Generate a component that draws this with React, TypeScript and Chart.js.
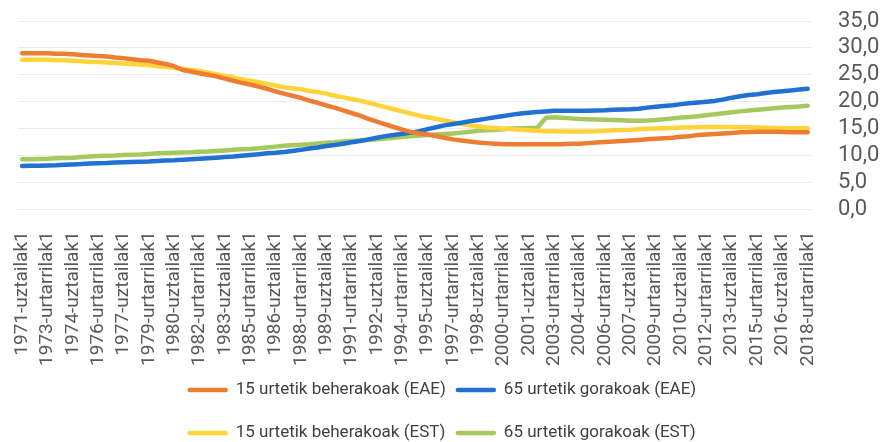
import React, { useEffect, useRef } from "react";
import { Chart, registerables } from "chart.js";

Chart.register(...registerables);

const categories: string[] = [
  "1971-uztailak1", "1972-urtarrilak1", "1972-uztailak1", "1973-urtarrilak1", "1973-uztailak1",
  "1974-urtarrilak1", "1974-uztailak1", "1975-urtarrilak1", "1975-uztailak1", "1976-urtarrilak1",
  "1976-uztailak1", "1977-urtarrilak1", "1977-uztailak1", "1978-urtarrilak1", "1978-uztailak1",
  "1979-urtarrilak1", "1979-uztailak1", "1980-urtarrilak1", "1980-uztailak1", "1981-urtarrilak1",
  "1981-uztailak1", "1982-urtarrilak1", "1982-uztailak1", "1983-urtarrilak1", "1983-uztailak1",
  "1984-urtarrilak1", "1984-uztailak1", "1985-urtarrilak1", "1985-uztailak1", "1986-urtarrilak1",
  "1986-uztailak1", "1987-urtarrilak1", "1987-uztailak1", "1988-urtarrilak1", "1988-uztailak1",
  "1989-urtarrilak1", "1989-uztailak1", "1990-urtarrilak1", "1990-uztailak1", "1991-urtarrilak1",
  "1991-uztailak1", "1992-urtarrilak1", "1992-uztailak1", "1993-urtarrilak1", "1993-uztailak1",
  "1994-urtarrilak1", "1994-uztailak1", "1995-urtarrilak1", "1995-uztailak1", "1996-urtarrilak1",
  "1996-uztailak1", "1997-urtarrilak1", "1997-uztailak1", "1998-urtarrilak1", "1998-uztailak1",
  "1999-urtarrilak1", "1999-uztailak1", "2000-urtarrilak1", "2000-uztailak1", "2001-urtarrilak1",
  "2001-uztailak1", "2002-urtarrilak1", "2002-uztailak1", "2003-urtarrilak1", "2003-uztailak1",
  "2004-urtarrilak1", "2004-uztailak1", "2005-urtarrilak1", "2005-uztailak1", "2006-urtarrilak1",
  "2006-uztailak1", "2007-urtarrilak1", "2007-uztailak1", "2008-urtarrilak1", "2008-uztailak1",
  "2009-urtarrilak1", "2009-uztailak1", "2010-urtarrilak1", "2010-uztailak1", "2011-urtarrilak1",
  "2011-uztailak1", "2012-urtarrilak1", "2012-uztailak1", "2013-urtarrilak1", "2013-uztailak1",
  "2014-urtarrilak1", "2014-uztailak1", "2015-urtarrilak1", "2015-uztailak1", "2016-urtarrilak1",
  "2016-uztailak1", "2017-urtarrilak1", "2017-uztailak1", "2018-urtarrilak1",
];

// 15 urtetik beherakoak (EAE)
const under15EAE: number[] = [
  29.0, 29.0, 29.0, 29.0, 28.9, 28.9, 28.8, 28.7, 28.6, 28.5,
  28.4, 28.2, 28.1, 27.9, 27.7, 27.6, 27.3, 27.0, 26.6, 25.9,
  25.6, 25.3, 25.0, 24.7, 24.3, 23.9, 23.5, 23.2, 22.8, 22.4,
  21.9, 21.5, 21.1, 20.7, 20.2, 19.8, 19.3, 18.9, 18.4, 17.9,
  17.4, 16.8, 16.3, 15.8, 15.3, 14.8, 14.4, 14.1, 13.9, 13.6,
  13.3, 13.0, 12.8, 12.6, 12.4, 12.3, 12.2, 12.1, 12.1, 12.1,
  12.1, 12.1, 12.1, 12.1, 12.1, 12.2, 12.2, 12.3, 12.4, 12.5,
  12.6, 12.7, 12.8, 12.9, 13.0, 13.1, 13.2, 13.3, 13.5, 13.6,
  13.8, 13.9, 14.0, 14.1, 14.2, 14.3, 14.35, 14.4, 14.4, 14.4,
  14.35, 14.3, 14.3, 14.3,
];

// 65 urtetik gorakoak (EAE)
const over65EAE: number[] = [
  8.07, 8.1, 8.1, 8.15, 8.2, 8.3, 8.35, 8.4, 8.5, 8.55,
  8.6, 8.7, 8.75, 8.8, 8.85, 8.9, 9.0, 9.05, 9.1, 9.2,
  9.3, 9.4, 9.5, 9.6, 9.7, 9.8, 9.95, 10.1, 10.25, 10.4,
  10.5, 10.65, 10.85, 11.05, 11.3, 11.5, 11.75, 11.95, 12.2, 12.45,
  12.7, 13.0, 13.3, 13.6, 13.8, 14.05, 14.25, 14.5, 14.9, 15.25,
  15.6, 15.85, 16.1, 16.35, 16.6, 16.85, 17.1, 17.35, 17.6, 17.8,
  17.95, 18.1, 18.2, 18.3, 18.3, 18.3, 18.3, 18.3, 18.35, 18.4,
  18.5, 18.55, 18.6, 18.7, 18.9, 19.05, 19.2, 19.35, 19.55, 19.7,
  19.85, 20.0, 20.15, 20.4, 20.75, 21.0, 21.25, 21.4, 21.6, 21.8,
  21.95, 22.1, 22.25, 22.4,
];

// 15 urtetik beherakoak (EST)
const under15EST: number[] = [
  27.8, 27.8, 27.8, 27.8, 27.7, 27.7, 27.6, 27.5, 27.4, 27.4,
  27.3, 27.2, 27.1, 27.0, 26.9, 26.8, 26.6, 26.5, 26.3, 26.1,
  25.9, 25.7, 25.4, 25.1, 24.8, 24.5, 24.2, 23.9, 23.6, 23.3,
  23.0, 22.7, 22.5, 22.3, 22.0, 21.8, 21.5, 21.1, 20.8, 20.5,
  20.2, 19.8, 19.4, 19.0, 18.6, 18.2, 17.8, 17.4, 17.1, 16.8,
  16.5, 16.2, 15.9, 15.6, 15.4, 15.2, 15.1, 15.0, 14.9, 14.8,
  14.7, 14.6, 14.5, 14.5, 14.45, 14.45, 14.45, 14.45, 14.5, 14.6,
  14.7, 14.75, 14.8, 14.9, 14.95, 15.0, 15.05, 15.1, 15.2, 15.2,
  15.25, 15.3, 15.3, 15.3, 15.3, 15.25, 15.25, 15.2, 15.15, 15.1,
  15.05, 15.05, 15.05, 15.05,
];

// 65 urtetik gorakoak (EST)
const over65EST: number[] = [
  9.3, 9.3, 9.35, 9.4, 9.5, 9.55, 9.6, 9.7, 9.8, 9.9,
  9.95, 10.0, 10.1, 10.15, 10.2, 10.3, 10.4, 10.45, 10.5, 10.55,
  10.6, 10.7, 10.75, 10.85, 10.95, 11.05, 11.15, 11.2, 11.35, 11.5,
  11.65, 11.8, 11.9, 12.0, 12.1, 12.25, 12.35, 12.45, 12.6, 12.7,
  12.8, 12.9, 13.0, 13.15, 13.3, 13.45, 13.6, 13.7, 13.8, 13.9,
  14.0, 14.1, 14.25, 14.4, 14.6, 14.7, 14.8, 14.9, 15.0, 15.05,
  15.1, 15.15, 17.0, 17.1, 17.0, 16.9, 16.8, 16.75, 16.7, 16.65,
  16.6, 16.55, 16.45, 16.45, 16.5, 16.6, 16.75, 16.9, 17.05, 17.15,
  17.3, 17.5, 17.65, 17.85, 18.05, 18.2, 18.35, 18.5, 18.65, 18.8,
  18.9, 19.0, 19.1, 19.25,
];

const seriesLabels: string[] = [
  "15 urtetik beherakoak (EAE)",
  "65 urtetik gorakoak (EAE)",
  "15 urtetik beherakoak (EST)",
  "65 urtetik gorakoak (EST)",
];
const seriesColors: string[] = ["#ED7D31", "#2171D3", "#FFD43B", "#A5C95F"];

const yMin = 0;
const yMax = 35;
const yStep = 5;

const FONT = "Roboto, 'Liberation Sans', Arial, sans-serif";

const legendPlugin = {
  id: "twoRowLegend",
  afterDraw(chart: any) {
    const ctx = chart.ctx as CanvasRenderingContext2D;
    const ds = chart.data.datasets;
    ctx.save();
    ctx.font = `17px ${FONT}`;
    ctx.textBaseline = "middle";
    ctx.textAlign = "left";
    const lineW = 40;
    const gap = 8;
    const colGap = 10;
    const col0 = Math.max(ctx.measureText(ds[0].label).width, ctx.measureText(ds[2].label).width);
    const col1 = Math.max(ctx.measureText(ds[1].label).width, ctx.measureText(ds[3].label).width);
    const total = lineW + gap + col0 + colGap + lineW + gap + col1;
    const startX = chart.width / 2 - total / 2;
    const colX = [startX, startX + lineW + gap + col0 + colGap];
    const rowY = [390, 433];
    const order = [
      [0, 1],
      [2, 3],
    ];
    order.forEach((row, r) => {
      row.forEach((di, c) => {
        const d = ds[di];
        const x = colX[c];
        const y = rowY[r];
        ctx.strokeStyle = d.borderColor;
        ctx.lineWidth = 4.5;
        ctx.lineCap = "round";
        ctx.beginPath();
        ctx.moveTo(x + 2, y);
        ctx.lineTo(x + lineW - 2, y);
        ctx.stroke();
        ctx.fillStyle = "#404040";
        ctx.fillText(d.label, x + lineW + gap, y);
      });
    });
    ctx.restore();
  },
};

export default function App() {
  const canvasRef = useRef<HTMLCanvasElement | null>(null);

  useEffect(() => {
    if (!canvasRef.current) return;
    const values = [under15EAE, over65EAE, under15EST, over65EST];
    const chart = new Chart(canvasRef.current, {
      type: "line",
      data: {
        labels: categories,
        datasets: values.map((v, i) => ({
          label: seriesLabels[i],
          data: v,
          borderColor: seriesColors[i],
          backgroundColor: seriesColors[i],
          borderWidth: 4.5,
          pointRadius: 0,
          tension: 0,
          fill: false,
          borderCapStyle: "round" as const,
          borderJoinStyle: "round" as const,
        })),
      },
      options: {
        animation: false,
        responsive: true,
        maintainAspectRatio: false,
        layout: { padding: { top: 21, left: 17, right: 0, bottom: 0 } },
        plugins: {
          legend: { display: false },
          tooltip: { enabled: false },
        },
        scales: {
          x: {
            type: "category",
            offset: true,
            grid: { display: false, drawTicks: false },
            border: { display: false },
            afterFit: (axis: any) => {
              axis.height = 442 - 209.3;
            },
            ticks: {
              autoSkip: false,
              maxRotation: 90,
              minRotation: 90,
              padding: 22,
              color: "#595959",
              font: { family: FONT, size: 19 },
              callback: (_v: any, i: number) => (i % 3 === 0 ? categories[i] : ""),
            },
          },
          y: {
            position: "right",
            min: yMin,
            max: yMax,
            grid: {
              color: "#ececec",
              lineWidth: 1,
              drawTicks: true,
              tickLength: 24,
              tickColor: "rgba(0,0,0,0)",
            },
            border: { display: false },
            afterFit: (axis: any) => {
              axis.width = 72;
            },
            ticks: {
              stepSize: yStep,
              autoSkip: false,
              padding: 2,
              color: "#595959",
              font: { family: FONT, size: 22 },
              callback: (v: any) => Number(v).toFixed(1).replace(".", ","),
            },
          },
        },
      },
      plugins: [legendPlugin],
    });
    return () => chart.destroy();
  }, []);

  return (
    <div style={{ position: "fixed", left: 0, top: 0, width: 884, height: 442, background: "#fff" }}>
      <canvas ref={canvasRef} />
    </div>
  );
}
